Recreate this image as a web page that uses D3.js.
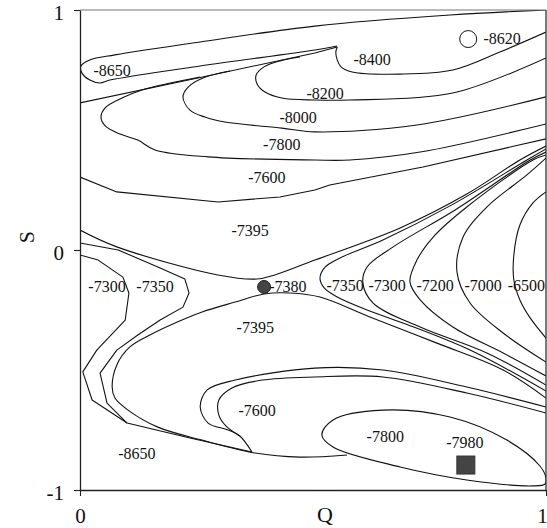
<!DOCTYPE html>
<html><head><meta charset="utf-8">
<script src="https://cdn.jsdelivr.net/npm/d3@7"></script>
<style>body{margin:0;background:#fff}svg{display:block}</style>
</head><body><svg id="chart" width="547" height="528"></svg>
<script>
// ---- data (Q, S) ----
const qTicks = [0, 1];
const sTicks = [-1, 0, 1];
const qTitle = "Q";
const sTitle = "S";

const c8650Top = [[1.0,1.0],[0.794,0.979],[0.504,0.933],[0.258,0.867],[0.075,0.813],[0.021,0.792],[0.002,0.767],[0.004,0.738],[0.021,0.708],[0.043,0.696],[0.064,0.708],[0.258,0.767],[0.504,0.833],[0.552,0.85]];
const cUpperEdge = [[0,0.613],[0.258,0.719],[0.504,0.821],[0.552,0.846]];
const c8400 = [[0.552,0.846],[0.549,0.825],[0.552,0.792],[0.560,0.763],[0.584,0.742],[0.687,0.733],[0.800,0.75],[0.901,0.825],[1.0,0.908]];
const c8200 = [[0.472,0.804],[0.429,0.788],[0.395,0.763],[0.378,0.729],[0.380,0.692],[0.397,0.658],[0.433,0.633],[0.504,0.625],[0.579,0.625],[0.800,0.654],[1.0,0.8]];
const c8000 = [[0.322,0.746],[0.264,0.717],[0.232,0.679],[0.221,0.638],[0.236,0.583],[0.268,0.554],[0.311,0.533],[0.433,0.508],[0.504,0.492],[0.723,0.521],[1.0,0.638]];
const c7800Top = [[0.258,0.721],[0.133,0.667],[0.090,0.633],[0.054,0.592],[0.045,0.554],[0.054,0.517],[0.086,0.483],[0.124,0.458],[0.161,0.417],[0.275,0.388],[0.504,0.375],[0.579,0.375],[0.730,0.408],[1.0,0.525]];
const c7600Top = [[0,0.304],[0.079,0.242],[0.296,0.2],[0.429,0.221],[0.504,0.25],[0.536,0.271],[0.736,0.346],[1.0,0.463]];
const c7395Upper = [[0,0.083],[0.079,0.013],[0.296,-0.104],[0.380,-0.121],[0.418,-0.104],[0.504,-0.042],[0.687,0.092],[0.830,0.233],[0.944,0.375],[1.0,0.433]];
const c7350Right = [[1.0,0.421],[0.959,0.375],[0.798,0.188],[0.650,0.042],[0.558,-0.033],[0.526,-0.071],[0.515,-0.117],[0.524,-0.158],[0.552,-0.196],[0.616,-0.25],[0.693,-0.304],[0.837,-0.417],[1.0,-0.588]];
const c7300Right = [[1.0,0.408],[0.966,0.375],[0.805,0.167],[0.672,0.013],[0.616,-0.071],[0.607,-0.138],[0.629,-0.221],[0.730,-0.321],[0.873,-0.429],[1.0,-0.563]];
const c7200Right = [[1.0,0.396],[0.972,0.375],[0.830,0.179],[0.758,0.054],[0.723,-0.042],[0.708,-0.133],[0.730,-0.208],[0.800,-0.321],[0.908,-0.429],[1.0,-0.525]];
const c7000Right = [[1.0,0.383],[0.959,0.313],[0.873,0.179],[0.822,0.054],[0.809,-0.092],[0.837,-0.221],[0.908,-0.346],[1.0,-0.467]];
const c6500Right = [[1,0.242],[0.972,0.196],[0.944,0.104],[0.931,-0.021],[0.931,-0.125],[0.944,-0.208],[0.966,-0.283],[1,-0.367]];
const c7395Lower = [[1,-0.617],[0.908,-0.5],[0.766,-0.388],[0.622,-0.279],[0.515,-0.196],[0.451,-0.179],[0.395,-0.183],[0.333,-0.217],[0.262,-0.258],[0.204,-0.304],[0.150,-0.354],[0.107,-0.404],[0.079,-0.479],[0.069,-0.571],[0.075,-0.617],[0.103,-0.667],[0.167,-0.738],[0.262,-0.792],[0.376,-0.846],[0.472,-0.863],[0.573,-0.854]];
const c7300Left = [[0,-0.021],[0.039,-0.042],[0.092,-0.113],[0.105,-0.179],[0.097,-0.292],[0.036,-0.417],[0.006,-0.508],[0.026,-0.625],[0.101,-0.721],[0.236,-0.783],[0.369,-0.842]];
const c7350Left = [[0,0.029],[0.082,0],[0.172,-0.075],[0.225,-0.121],[0.234,-0.179],[0.221,-0.238],[0.172,-0.292],[0.124,-0.354],[0.079,-0.417],[0.043,-0.513],[0.058,-0.638],[0.101,-0.721]];
const c7600Outer = [[1,-0.654],[0.830,-0.571],[0.650,-0.5],[0.504,-0.492],[0.333,-0.542],[0.273,-0.583],[0.258,-0.654],[0.275,-0.721],[0.318,-0.75],[0.343,-0.775],[0.369,-0.842]];
const c7600Inner = [[1,-0.679],[0.830,-0.596],[0.650,-0.529],[0.504,-0.529],[0.391,-0.542],[0.326,-0.575],[0.298,-0.625],[0.298,-0.688],[0.313,-0.733],[0.343,-0.775]];
const c7800Loop = [[1,-0.95],[0.987,-0.9],[0.916,-0.792],[0.794,-0.696],[0.650,-0.667],[0.543,-0.708],[0.519,-0.771],[0.543,-0.821],[0.687,-0.904],[0.830,-0.958],[0.972,-0.983],[0.998,-0.975]];

const labelTexts = ["-8650","-8400","-8620","-8200","-8000","-7800","-7600","-7395","-7300","-7350","-7380","-7395","-7350","-7300","-7200","-7000","-6500","-7600","-7800","-7980","-8650"];
const labelQ = [0.069,0.627,0.906,0.526,0.468,0.433,0.401,0.365,0.058,0.161,0.446,0.376,0.569,0.659,0.762,0.865,0.958,0.380,0.655,0.826,0.122];
const labelS = [0.75,0.792,0.883,0.654,0.554,0.438,0.304,0.083,-0.154,-0.154,-0.154,-0.321,-0.146,-0.146,-0.146,-0.146,-0.146,-0.667,-0.779,-0.8,-0.846];

const openCircle = [0.833, 0.879];
const saddleDot = [0.395, -0.154];
const minSquare = [0.828, -0.896];

// ---- drawing ----
const svg = d3.select('#chart');
const x = d3.scaleLinear().domain([0,1]).range([80,546]);
const y = d3.scaleLinear().domain([-1,1]).range([490,10]);
const FONT = "'Liberation Serif','Times New Roman',serif";

svg.append('defs').append('clipPath').attr('id','plotclip')
  .append('rect').attr('x',x(0)).attr('y',y(1)).attr('width',x(1)-x(0)).attr('height',y(-1)-y(1));

const contours = [
  {d:c8650Top}, {d:cUpperEdge, lin:true}, {d:c8400}, {d:c8200}, {d:c8000}, {d:c7800Top},
  {d:c7600Top, lin:true}, {d:c7395Upper}, {d:c7350Right}, {d:c7300Right}, {d:c7200Right},
  {d:c7000Right}, {d:c6500Right}, {d:c7395Lower}, {d:c7300Left, lin:true}, {d:c7350Left, lin:true},
  {d:c7600Outer}, {d:c7600Inner}, {d:c7800Loop, closed:true}
];

const g = svg.append('g').attr('clip-path','url(#plotclip)');
contours.forEach(c => {
  const line = d3.line().x(d => x(d[0])).y(d => y(d[1]))
    .curve(c.closed ? d3.curveCatmullRomClosed.alpha(0.5) : (c.lin ? d3.curveLinear : d3.curveCatmullRom.alpha(0.5)));
  g.append('path').attr('d', line(c.d)).attr('fill','none').attr('stroke','#111').attr('stroke-width',1.1).attr('stroke-linejoin','round');
});

// labels
svg.append('g').selectAll('text').data(labelTexts).join('text')
  .attr('x', (t,i) => x(labelQ[i])).attr('y', (t,i) => y(labelS[i]))
  .attr('text-anchor','middle').attr('dominant-baseline','central')
  .attr('font-family', FONT).attr('font-size', 16).attr('fill','#111')
  .text(t => t);

// markers
svg.append('circle').attr('cx', x(openCircle[0])).attr('cy', y(openCircle[1])).attr('r', 8.5)
  .attr('fill','#fff').attr('stroke','#111').attr('stroke-width',1);
svg.append('circle').attr('cx', x(saddleDot[0])).attr('cy', y(saddleDot[1])).attr('r', 6.5)
  .attr('fill','#444').attr('stroke','#222').attr('stroke-width',1);
svg.append('rect').attr('x', x(minSquare[0]) - 9).attr('y', y(minSquare[1]) - 9).attr('width', 18).attr('height', 18)
  .attr('fill','#444').attr('stroke','#333');

// frame (top and right)
svg.append('line').attr('x1', x(0)).attr('x2', x(1)).attr('y1', y(1)).attr('y2', y(1)).attr('stroke','#777').attr('stroke-width',1.2);
svg.append('line').attr('x1', x(1)).attr('x2', x(1)).attr('y1', y(1)).attr('y2', y(-1)).attr('stroke','#222').attr('stroke-width',1.2);

// axes
const yAxis = d3.axisLeft(y).tickValues(sTicks).tickFormat(d => String(d)).tickSize(6).tickSizeOuter(0).tickPadding(10);
const xAxis = d3.axisBottom(x).tickValues(qTicks).tickFormat(d => String(d)).tickSize(6).tickSizeOuter(0).tickPadding(12);
const ya = svg.append('g').attr('transform', `translate(${x(0)},0)`).call(yAxis);
const xa = svg.append('g').attr('transform', `translate(0,${y(-1)})`).call(xAxis);
[ya, xa].forEach(a => {
  a.select('.domain').attr('stroke','#222').attr('stroke-width',1.3);
  a.selectAll('.tick line').attr('stroke','#222').attr('stroke-width',1.1);
  a.selectAll('text').attr('font-family', FONT).attr('font-size', 21).attr('fill','#111');
});
ya.selectAll('text').attr('dy','0.45em');
xa.selectAll('.tick').filter(d => d === 1).select('text').attr('dx', -4);

svg.append('text').attr('x', 325).attr('y', 522).attr('text-anchor','middle')
  .attr('font-family', FONT).attr('font-size', 22).attr('fill','#111').text(qTitle);
svg.append('text').attr('transform', 'translate(34,237) rotate(-90)').attr('text-anchor','middle')
  .attr('font-family', FONT).attr('font-size', 22).attr('fill','#111').text(sTitle);
</script></body></html>
